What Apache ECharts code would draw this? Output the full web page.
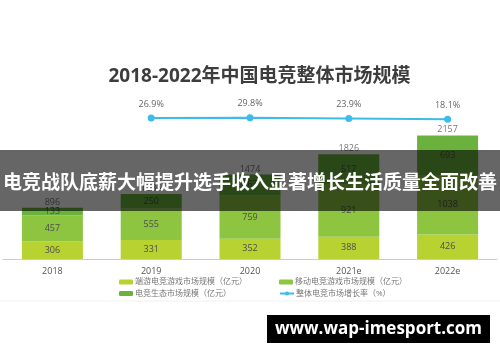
<!DOCTYPE html>
<html>
<head>
<meta charset="utf-8">
<script src="https://cdn.jsdelivr.net/npm/echarts@6/dist/echarts.min.js"></script>
<style>html,body{margin:0;padding:0;background:#fff;}#c{width:500px;height:362px;}</style>
</head>
<body>
<div id="c"></div>
<script>
var categories = ['2018', '2019', '2020', '2021e', '2022e'];
var pcGame = [306, 331, 352, 388, 426];
var mobileGame = [457, 555, 759, 921, 1038];
var ecosystem = [133, 250, 363, 517, 693];
var totals = [896, 1136, 1474, 1826, 2157];
var growthRate = ['-', 26.9, 29.8, 23.9, 18.1];
var seriesNames = ['端游电竞游戏市场规模（亿元）', '移动电竞游戏市场规模（亿元）', '电竞生态市场规模（亿元）', '整体电竞市场增长率（%）'];
var titleText = '2018-2022年中国电竞整体市场规模';
var bannerText = '电竞战队底薪大幅提升选手收入显著增长生活质量全面改善';
var watermarkText = 'www.wap-imesport.com';

var font = '"Open Sans", "Noto Sans CJK SC", sans-serif';
var chart = echarts.init(document.getElementById('c'), null, {renderer: 'canvas'});

function legendAt(name, left, top) {
  return {
    data: [name], left: left, top: top, itemWidth: 14, itemHeight: 5, padding: 0,
    textStyle: {fontSize: 8, color: '#777', fontFamily: font, padding: [0, 0, 0, -3]}
  };
}
var barLabel = {show: true, position: 'inside', fontSize: 9, color: '#4d4d4d', fontFamily: font};

chart.setOption({
  animation: false,
  grid: {left: 3, right: 3, top: 110, bottom: 103},
  legend: [
    legendAt(seriesNames[0], 119, 278),
    legendAt(seriesNames[1], 279, 278),
    legendAt(seriesNames[2], 119, 289.5),
    legendAt(seriesNames[3], 279, 289.5)
  ],
  xAxis: {
    type: 'category', data: categories,
    axisLine: {lineStyle: {color: '#ccc'}}, axisTick: {show: false},
    axisLabel: {fontSize: 9, color: '#555', margin: 8, fontFamily: font}
  },
  yAxis: [
    {type: 'value', min: 0, max: 2600, show: false, splitLine: {show: false}},
    {type: 'value', min: -1070, max: 90, show: false, splitLine: {show: false}}
  ],
  series: [
    {name: seriesNames[0], type: 'bar', stack: 's', data: pcGame, barWidth: 61,
      itemStyle: {color: '#b8d232'}, label: barLabel},
    {name: seriesNames[1], type: 'bar', stack: 's', data: mobileGame,
      itemStyle: {color: '#8dc540'}, label: barLabel},
    {name: seriesNames[2], type: 'bar', stack: 's', data: ecosystem,
      itemStyle: {color: '#6ab13d'}, label: barLabel},
    {name: 'total', type: 'scatter', data: totals, symbolSize: 0, silent: true,
      label: {show: true, position: 'top', distance: 1, fontSize: 9, color: '#555', fontFamily: font}},
    {name: seriesNames[3], type: 'line', yAxisIndex: 1, data: growthRate,
      symbol: 'circle', symbolSize: 7,
      lineStyle: {color: '#3dbbe9', width: 2}, itemStyle: {color: '#3dbbe9'},
      label: {show: true, position: 'top', distance: 6, fontSize: 9, color: '#666', fontFamily: font,
        formatter: function (p) { return p.value + '%'; }}}
  ],
  graphic: [
    {type: 'text', x: 259.5, y: 77, z: 10,
      style: {text: titleText, font: 'bold 19px ' + font, fill: '#3d3d3d', textAlign: 'center', textVerticalAlign: 'middle'}},
    {type: 'line', z: 5, shape: {x1: 0, y1: 301, x2: 500, y2: 301}, style: {stroke: '#f0f0f0', lineWidth: 1}},
    {type: 'rect', z: 50, shape: {x: 0, y: 150, width: 500, height: 61}, style: {fill: 'rgba(0,0,0,0.6)'}},
    {type: 'text', x: 250, y: 182, z: 51,
      style: {text: bannerText, font: 'bold 19px "Noto Sans CJK SC", sans-serif', fill: '#fff', textAlign: 'center', textVerticalAlign: 'middle'}},
    {type: 'rect', z: 50, shape: {x: 267, y: 315, width: 223, height: 28}, style: {fill: '#000'}},
    {type: 'text', x: 378.5, y: 329.5, z: 51,
      style: {text: watermarkText, font: 'bold 17px "Open Sans", sans-serif', fill: '#fff', textAlign: 'center', textVerticalAlign: 'middle'}}
  ]
});
</script>
</body>
</html>
